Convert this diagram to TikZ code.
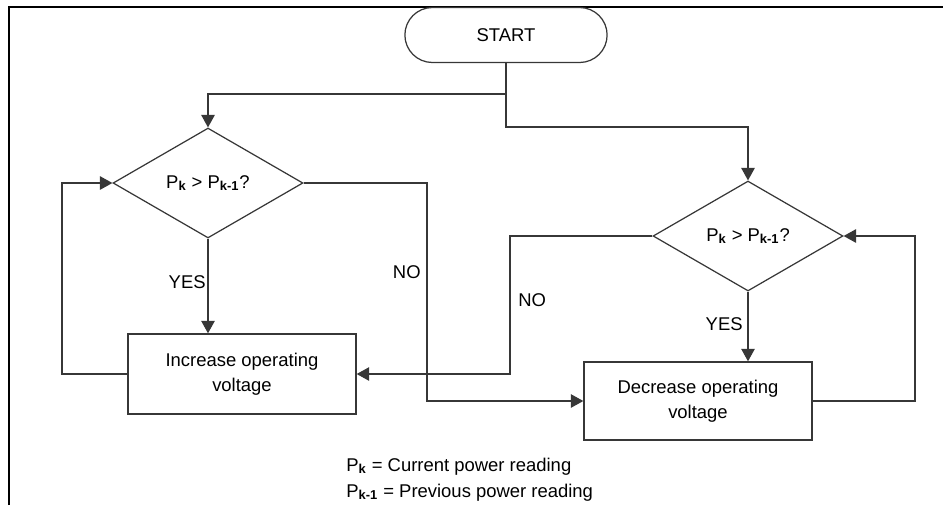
\documentclass[tikz,border=0pt]{standalone}
\usepackage{fontspec}
\setmainfont{Liberation Sans}
\usetikzlibrary{arrows.meta,shapes.geometric,shapes.misc}
\definecolor{flowline}{RGB}{55,55,55}
\newcommand{\Pk}{P\textsubscript{\textbf{k}}}
\newcommand{\Pkm}{P\textsubscript{\textbf{k-1}}}
\tikzset{term/.style={rounded rectangle,draw=flowline,line width=.7pt,minimum width=4.28cm,minimum height=1.1cm},
 decide/.style={diamond,draw=flowline,line width=.7pt,minimum width=3.8cm,minimum height=2.2cm,inner sep=0pt},
 stepbox/.style={rectangle,draw=flowline,line width=.8pt,minimum width=4.56cm,align=center},
 lbl/.style={inner sep=0pt},
 wire/.style={draw=flowline,line width=.7pt},
 arr/.style={wire,-{Triangle[length=2.5mm,width=2.7mm]}},
 every picture/.style={line join=miter}}

\begin{document}
\begin{tikzpicture}[x=0.02cm,y=-0.02cm,font=\fontsize{10.5}{14}\selectfont]
\useasboundingbox (0,0) rectangle (943,505);
\draw[line width=1.2pt] (9,505) -- (9,7) -- (943,7);
\node[term] (start) at (506,35) {START};
\node[decide] (d1) at (208,183) {\Pk{} > \Pkm?};
\node[decide] (d2) at (748,236) {\Pk{} > \Pkm?};
\node[stepbox,minimum height=1.6cm] (inc) at (242,374) {Increase operating\\voltage};
\node[stepbox,minimum height=1.56cm] (dcr) at (698,401) {Decrease operating\\voltage};
\coordinate (j1) at (start.south |- 0,94);
\coordinate (j2) at (start.south |- 0,127);
\coordinate (lp1) at (62,374);
\coordinate (no1) at (427,183);
\coordinate (no2) at (510,236);
\coordinate (lp2) at (915,401);
\draw[arr] (start.south) -- (j2) -| (d2.north);
\draw[arr] (j1) -| (d1.north);
\draw[arr] (d1.south) -- (d1.south |- inc.north);
\draw[arr] (d2.south) -- (d2.south |- dcr.north);
\draw[arr] (inc.west) -- (lp1) |- (d1.west);
\draw[arr] (d1.east) -- (no1) |- (dcr.west);
\draw[arr] (d2.west) -- (no2) |- (inc.east);
\draw[arr] (dcr.east) -- (lp2) |- (d2.east);
\node[lbl,anchor=east] (yes1) at (206,282) {YES};
\node[lbl,anchor=east] (nolbl1) at (421,272) {NO};
\node[lbl,anchor=west] (nolbl2) at (518,300) {NO};
\node[lbl,anchor=east] (yes2) at (743,324) {YES};
\node[lbl,anchor=base west] (key1) at (346,471) {\Pk{} = Current power reading};
\node[lbl,anchor=base west] (key2) at (346,497) {\Pkm{} = Previous power reading};
\end{tikzpicture}
\end{document}
